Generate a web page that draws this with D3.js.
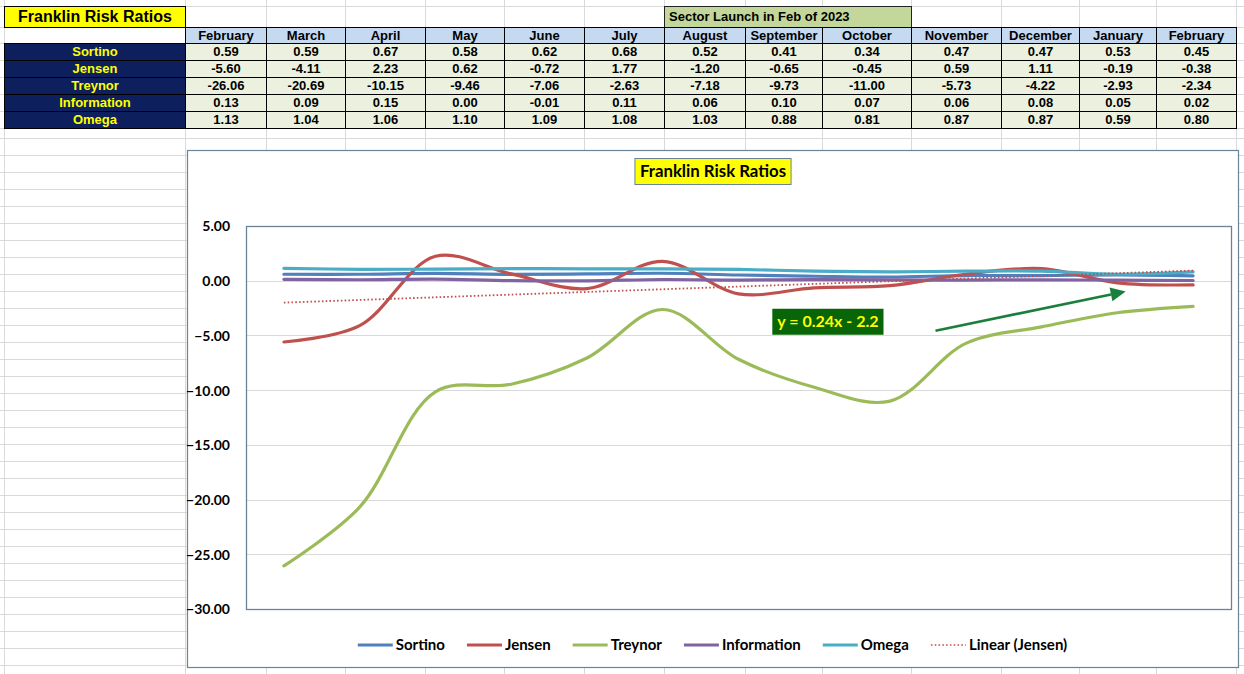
<!DOCTYPE html>
<html><head><meta charset="utf-8">
<script src="https://cdn.jsdelivr.net/npm/d3@7"></script>
<style>
html,body{margin:0;padding:0;background:#fff;}
svg{display:block;}
</style></head>
<body>
<svg id="c" width="1244" height="674"></svg>
<script>
// ---------- DATA ----------
const months = ["February","March","April","May","June","July","August","September","October","November","December","January","February"];
const seriesNames = ["Sortino","Jensen","Treynor","Information","Omega"];
const sortino = [0.59,0.59,0.67,0.58,0.62,0.68,0.52,0.41,0.34,0.47,0.47,0.53,0.45];
const jensen = [-5.60,-4.11,2.23,0.62,-0.72,1.77,-1.20,-0.65,-0.45,0.59,1.11,-0.19,-0.38];
const treynor = [-26.06,-20.69,-10.15,-9.46,-7.06,-2.63,-7.18,-9.73,-11.00,-5.73,-4.22,-2.93,-2.34];
const information = [0.13,0.09,0.15,0.00,-0.01,0.11,0.06,0.10,0.07,0.06,0.08,0.05,0.02];
const omega = [1.13,1.04,1.06,1.10,1.09,1.08,1.03,0.88,0.81,0.87,0.87,0.59,0.80];
const yTicks = [5,0,-5,-10,-15,-20,-25,-30];
const tableTitle = "Franklin Risk Ratios";
const sectorNote = "Sector Launch in Feb of 2023";
const chartTitle = "Franklin Risk Ratios";
const trendLabel = "Linear (Jensen)";

// ---------- LAYOUT ----------
const svg = d3.select("#c");
const W = 1244, H = 674;
const colors = {Sortino:"#4F81BD", Jensen:"#C0504D", Treynor:"#9BBB59", Information:"#8064A2", Omega:"#4BACC6"};
const values = {Sortino:sortino, Jensen:jensen, Treynor:treynor, Information:information, Omega:omega};
const tableFont = "'Liberation Sans', Arial, sans-serif";
const chartFont = "Lato, 'Open Sans', sans-serif";

// spreadsheet column edges and rows
const colX = [4,185,266,345,425,504,584,664,745,822,911,1001,1079,1156,1236];
const rowY = [6,27,43,60,77,94,111,128];
const gridRows = rowY.concat(d3.range(138, H, 17));

svg.append("rect").attr("width",W).attr("height",H).attr("fill","#fff");
const grid = svg.append("g").attr("stroke","#D9D9D9").attr("stroke-width",1).attr("shape-rendering","crispEdges");
colX.forEach(x=>grid.append("line").attr("x1",x+0.5).attr("x2",x+0.5).attr("y1",0).attr("y2",H));
gridRows.forEach(y=>grid.append("line").attr("x1",0).attr("x2",W).attr("y1",y+0.5).attr("y2",y+0.5));

// ---------- TABLE ----------
const tbl = svg.append("g").attr("shape-rendering","crispEdges");
tbl.append("rect").attr("x",colX[0]+0.5).attr("y",rowY[0]+0.5).attr("width",colX[1]-colX[0]).attr("height",rowY[1]-rowY[0])
  .attr("fill","#FFFF00").attr("stroke","#000");
svg.append("text").attr("x",18).attr("y",22).attr("font-family",tableFont).attr("font-weight","bold").attr("font-size",16)
  .attr("fill","#000").text(tableTitle);

tbl.append("rect").attr("x",colX[7]+0.5).attr("y",rowY[0]+0.5).attr("width",colX[10]-colX[7]).attr("height",rowY[1]-rowY[0])
  .attr("fill","#C4D79B").attr("stroke","#222");
svg.append("text").attr("x",colX[7]+5).attr("y",21).attr("font-family",tableFont).attr("font-weight","bold").attr("font-size",13)
  .attr("fill","#000").text(sectorNote);

// header row
months.forEach((m,i)=>{
  tbl.append("rect").attr("x",colX[i+1]+0.5).attr("y",rowY[1]+0.5).attr("width",colX[i+2]-colX[i+1]).attr("height",rowY[2]-rowY[1])
    .attr("fill","#C5D9F1").attr("stroke","#000");
  svg.append("text").attr("x",(colX[i+1]+colX[i+2])/2+0.5).attr("y",rowY[1]+13).attr("text-anchor","middle")
    .attr("font-family",tableFont).attr("font-weight","bold").attr("font-size",13).attr("fill","#000").text(m);
});
// data rows
seriesNames.forEach((s,r)=>{
  const y0 = rowY[r+2], y1 = rowY[r+3];
  tbl.append("rect").attr("x",colX[0]+0.5).attr("y",y0+0.5).attr("width",colX[1]-colX[0]).attr("height",y1-y0)
    .attr("fill","#0D1F5C").attr("stroke","#000");
  svg.append("text").attr("x",(colX[0]+colX[1])/2+0.5).attr("y",y0+13).attr("text-anchor","middle")
    .attr("font-family",tableFont).attr("font-weight","bold").attr("font-size",13).attr("fill","#FFFF00").text(s);
  values[s].forEach((v,i)=>{
    tbl.append("rect").attr("x",colX[i+1]+0.5).attr("y",y0+0.5).attr("width",colX[i+2]-colX[i+1]).attr("height",y1-y0)
      .attr("fill","#EBF1DE").attr("stroke","#000");
    svg.append("text").attr("x",(colX[i+1]+colX[i+2])/2+0.5).attr("y",y0+13).attr("text-anchor","middle")
      .attr("font-family",tableFont).attr("font-weight","bold").attr("font-size",13).attr("fill","#000").text(v.toFixed(2));
  });
});

// ---------- CHART ----------
const box = {x0:187, y0:150, x1:1238, y1:667};
const plot = {x0:246, y0:226, x1:1231, y1:609};
const borderCol = "#6A8397";
svg.append("rect").attr("x",box.x0+0.5).attr("y",box.y0+0.5).attr("width",box.x1-box.x0).attr("height",box.y1-box.y0)
  .attr("fill","#fff").attr("stroke",borderCol).attr("stroke-width",1.2);

const x = d3.scalePoint().domain(d3.range(months.length)).range([plot.x0, plot.x1]).padding(0.5);
const y = d3.scaleLinear().domain([-30,5]).range([plot.y1, plot.y0]);

// gridlines
const g = svg.append("g");
g.selectAll("line.gl").data(yTicks.slice(1,-1)).enter().append("line")
  .attr("x1",plot.x0).attr("x2",plot.x1).attr("y1",d=>Math.round(y(d))+0.5).attr("y2",d=>Math.round(y(d))+0.5)
  .attr("stroke","#D9D9D9").attr("stroke-width",1);
svg.append("rect").attr("x",plot.x0+0.5).attr("y",plot.y0+0.5).attr("width",plot.x1-plot.x0).attr("height",plot.y1-plot.y0)
  .attr("fill","none").attr("stroke",borderCol).attr("stroke-width",1.3);

// y axis labels
const yAxis = d3.axisLeft(y).tickValues(yTicks).tickFormat(d3.format(".2f")).tickSize(0).tickPadding(16);
const ya = svg.append("g").attr("transform",`translate(${plot.x0},0)`).call(yAxis);
ya.select(".domain").remove();
ya.selectAll("text").attr("font-family",chartFont).attr("font-weight","bold").attr("font-size",14).attr("fill","#000")
  .attr("dy","0.35em");

// title
const tt = svg.append("g");
const ttText = tt.append("text").attr("x",(box.x0+box.x1)/2+0.5).attr("y",177).attr("text-anchor","middle")
  .attr("font-family",chartFont).attr("font-weight","bold").attr("font-size",16.8).attr("fill","#000").text(chartTitle);
const tb = ttText.node().getBBox();
tt.insert("rect","text").attr("x",tb.x-5).attr("y",158.5).attr("width",tb.width+10).attr("height",26)
  .attr("fill","#FFFF00").attr("stroke","#6A8397").attr("stroke-width",1);

// lines
const line = d3.line().x((d,i)=>x(i)).y(d=>y(d)).curve(d3.curveCatmullRom.alpha(0.5));
const lg = svg.append("g").attr("fill","none").attr("stroke-linecap","round");
seriesNames.forEach(s=>{
  lg.append("path").datum(values[s]).attr("d",line).attr("stroke",colors[s]).attr("stroke-width",3.2);
});

// linear trend of Jensen (least squares, x = 1..n)
const n = jensen.length;
const xs = d3.range(1,n+1);
const mx = d3.mean(xs), my = d3.mean(jensen);
const slope = d3.sum(xs.map((xv,i)=>(xv-mx)*(jensen[i]-my))) / d3.sum(xs.map(xv=>(xv-mx)*(xv-mx)));
const icpt = my - slope*mx;
svg.append("line").attr("x1",x(0)).attr("x2",x(n-1)).attr("y1",y(icpt+slope*1)).attr("y2",y(icpt+slope*n))
  .attr("stroke","#C0504D").attr("stroke-width",1.8).attr("stroke-dasharray","1.6,2.2");

// equation label
const eqCx = x(7)+ (x(8)-x(7))*0.18, eqCy = y(-3.75);
const eq = svg.append("g");
const eqT = eq.append("text").attr("x",eqCx).attr("y",eqCy).attr("dy","0.35em").attr("text-anchor","middle")
  .attr("font-family",chartFont).attr("font-weight","bold").attr("font-size",16).attr("fill","#FFFF00")
  .text(`y = ${slope.toFixed(2)}x - ${Math.abs(icpt).toFixed(1)}`);
const eb = eqT.node().getBBox();
eq.insert("rect","text").attr("x",eb.x-5).attr("y",eqCy-13).attr("width",eb.width+10).attr("height",26).attr("fill","#086608");

// arrow annotation
const ax0 = x(8)+(x(9)-x(8))*0.6, ay0 = y(-4.57);
const ax1 = x(11)+(x(12)-x(11))*0.11, ay1 = y(-0.98);
const ang = Math.atan2(ay1-ay0, ax1-ax0);
const hl = 15, hw = 7;
const bx = ax1 - hl*Math.cos(ang), by = ay1 - hl*Math.sin(ang);
svg.append("line").attr("x1",ax0).attr("y1",ay0).attr("x2",bx).attr("y2",by).attr("stroke","#1A7F3C").attr("stroke-width",2.6);
svg.append("path").attr("d",`M${ax1},${ay1}L${bx - hw*Math.sin(ang)},${by + hw*Math.cos(ang)}L${bx + hw*Math.sin(ang)},${by - hw*Math.cos(ang)}Z`)
  .attr("fill","#1A7F3C");

// legend
const legendItems = seriesNames.map(s=>({name:s, color:colors[s], dash:null, w:3.2}))
  .concat([{name:trendLabel, color:"#C0504D", dash:"1.6,2.2", w:1.6}]);
const leg = svg.append("g");
const swW = 35, gapT = 3, gapI = 22, legY = 645;
const items = legendItems.map(it=>{
  const gI = leg.append("g");
  gI.append("line").attr("x1",0).attr("x2",swW).attr("y1",legY).attr("y2",legY)
    .attr("stroke",it.color).attr("stroke-width",it.w).attr("stroke-dasharray",it.dash);
  const t = gI.append("text").attr("x",swW+gapT).attr("y",legY).attr("dy","0.35em")
    .attr("font-family",chartFont).attr("font-weight","bold").attr("font-size",15).attr("fill","#000").text(it.name);
  return {g:gI, w: swW+gapT+t.node().getComputedTextLength()};
});
const total = d3.sum(items,d=>d.w) + gapI*(items.length-1);
let cx = (box.x0+box.x1)/2 - total/2;
items.forEach(it=>{ it.g.attr("transform",`translate(${cx},0)`); cx += it.w + gapI; });
</script>
</body></html>
